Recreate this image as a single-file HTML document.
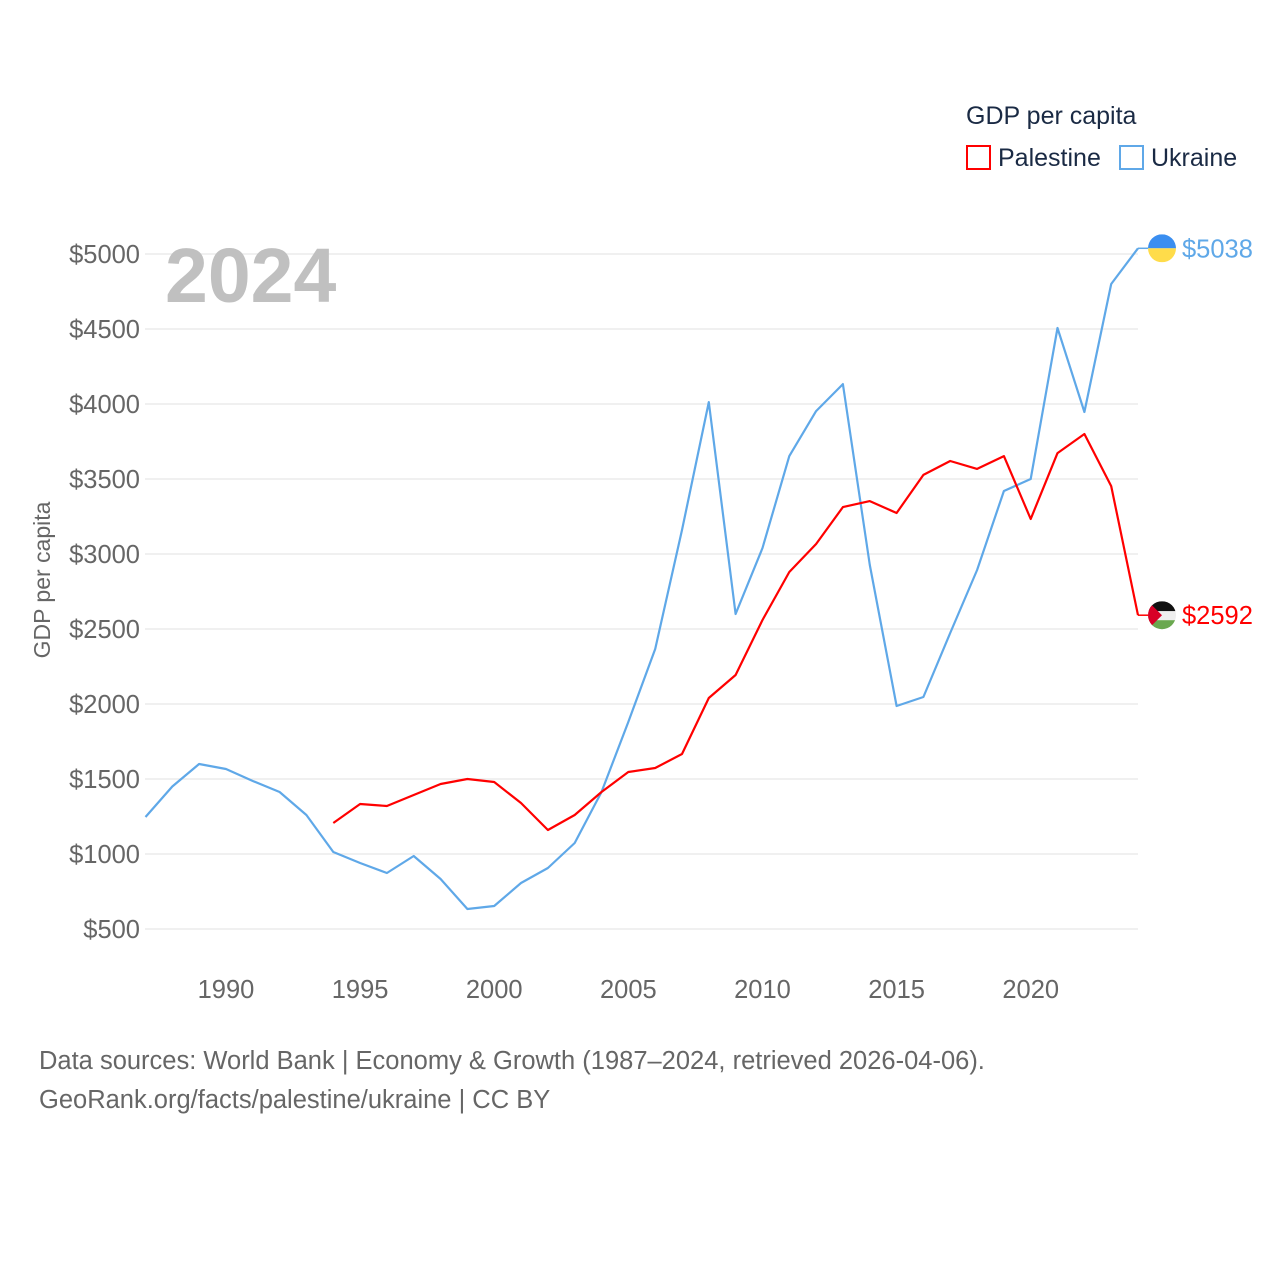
<!DOCTYPE html>
<html><head><meta charset="utf-8"><style>
body{margin:0;background:#fff;}
svg text{font-family:"Liberation Sans",sans-serif;}
</style></head><body>
<svg width="1280" height="1280" viewBox="0 0 1280 1280" xmlns="http://www.w3.org/2000/svg">
<rect width="1280" height="1280" fill="#fff"/>
<g id="grid"></g>
<g id="yticks"></g>
<g id="xticks"></g>
<text x="165" y="302" font-size="77" font-weight="bold" fill="#c0c0c0">2024</text>
<text transform="translate(50,580) rotate(-90)" text-anchor="middle" font-size="23" fill="#666">GDP per capita</text>
<g id="series"></g>
<g>
<text x="966" y="124" font-size="25" fill="#1a2a44">GDP per capita</text>
<g>
<rect x="967" y="146" width="23" height="23" fill="none" stroke="#ff0000" stroke-width="2"/>
<text x="998" y="166" font-size="25" fill="#1a2a44">Palestine</text></g>
<g>
<rect x="1120" y="146" width="23" height="23" fill="none" stroke="#5fa8e8" stroke-width="2"/>
<text x="1151" y="166" font-size="25" fill="#1a2a44">Ukraine</text></g>
</g>
<text x="39" y="1069" font-size="25.5" fill="#666">Data sources: World Bank | Economy &amp; Growth (1987–2024, retrieved 2026-04-06).</text>
<text x="39" y="1108" font-size="25.5" fill="#666">GeoRank.org/facts/palestine/ukraine | CC BY</text>
</svg>
<script>
const years=[1987,1988,1989,1990,1991,1992,1993,1994,1995,1996,1997,1998,1999,2000,2001,2002,2003,2004,2005,2006,2007,2008,2009,2010,2011,2012,2013,2014,2015,2016,2017,2018,2019,2020,2021,2022,2023,2024];
const ukraine=[1247,1450,1600,1567,1487,1413,1260,1013,940,873,987,833,633,653,807,907,1073,1413,1880,2367,3160,4013,2600,3040,3653,3953,4133,2927,1987,2047,2473,2893,3420,3500,4507,3947,4800,5038];
const palestine=[null,null,null,null,null,null,null,1207,1333,1320,1393,1467,1500,1480,1340,1160,1260,1413,1547,1573,1667,2040,2193,2560,2880,3067,3313,3353,3273,3527,3620,3567,3653,3233,3673,3800,3453,2592];
const yTicks=[500,1000,1500,2000,2500,3000,3500,4000,4500,5000];
const xTicks=[1990,1995,2000,2005,2010,2015,2020];
const NS="http://www.w3.org/2000/svg";
const X=y=>145.5+(y-1987)*(1138-145.5)/37;
const Y=v=>929-(v-500)*0.15;
function mk(t,a,p){const e=document.createElementNS(NS,t);for(const k in a)e.setAttribute(k,a[k]);p.appendChild(e);return e;}
const grid=document.getElementById('grid'),yt=document.getElementById('yticks'),xt=document.getElementById('xticks'),ser=document.getElementById('series');
yTicks.forEach(v=>{
const l=mk('line',{x1:145,x2:1138,y1:Y(v),y2:Y(v),stroke:'#ebebeb','stroke-width':1.5},grid);


const t=mk('text',{x:140,y:Y(v)+9,'text-anchor':'end','font-size':25.5,fill:'#666'},yt);
t.textContent='$'+v;


});
xTicks.forEach(v=>{
const t=mk('text',{x:X(v),y:998,'text-anchor':'middle','font-size':25.5,fill:'#666'},xt);
t.textContent=v;


});
function line(vals,color,name){
let d='';vals.forEach((v,i)=>{if(v==null)return;d+=(d?'L':'M')+X(years[i]).toFixed(1)+','+Y(v).toFixed(1);});
const p=mk('path',{d:d,fill:'none',stroke:color,'stroke-width':2.2,'stroke-linejoin':'round'},ser);


const last=vals[vals.length-1],ly=Y(last),lx=X(years[years.length-1]);
mk('line',{x1:lx,x2:lx+10,y1:ly,y2:ly,stroke:color,'stroke-width':1.5},ser);
return {ly:ly,lx:lx,last:last};
}
const u=line(ukraine,'#5fa8e8','ukraine');
const p=line(palestine,'#ff0000','palestine');
function flag(info,kind,color){
const cx=info.lx+24,cy=info.ly;
const g=mk('g',{},ser);


const cid='c'+kind;
const cp=mk('clipPath',{id:cid},g);mk('circle',{cx:cx,cy:cy,r:14},cp);
const f=mk('g',{'clip-path':'url(#'+cid+')'},g);
if(kind==='ukraine'){
mk('rect',{x:cx-14,y:cy-14,width:28,height:14,fill:'#3a8ef0'},f);
mk('rect',{x:cx-14,y:cy,width:28,height:14,fill:'#ffdc4a'},f);
}else{
mk('rect',{x:cx-14,y:cy-14,width:28,height:10,fill:'#111'},f);
mk('rect',{x:cx-14,y:cy-4,width:28,height:9,fill:'#eee'},f);
mk('rect',{x:cx-14,y:cy+5,width:28,height:10,fill:'#6aa84f'},f);
mk('polygon',{points:(cx-14)+','+(cy-14)+' '+(cx)+','+cy+' '+(cx-14)+','+(cy+14),fill:'#d80027'},f);
}
const t=mk('text',{x:cx+20,y:cy+9,'font-size':25.5,fill:color},ser);
t.textContent='$'+info.last;


}
flag(u,'ukraine','#5fa8e8');
flag(p,'palestine','#ff0000');
</script>
</body></html>
